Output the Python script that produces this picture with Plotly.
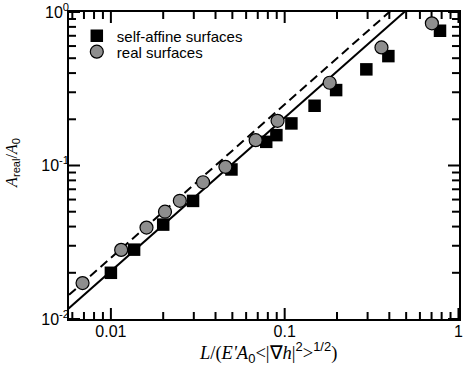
import plotly.graph_objects as go

# self-affine surfaces (squares)
sa_x = [0.0100, 0.0136, 0.0200, 0.0297, 0.0494, 0.0783, 0.0896, 0.1093, 0.1486, 0.1977, 0.295, 0.395, 0.783]
sa_y = [0.0200, 0.0283, 0.0412, 0.0588, 0.0942, 0.1426, 0.1577, 0.188, 0.245, 0.310, 0.423, 0.516, 0.755]

# real surfaces (circles)
real_x = [0.00687, 0.01146, 0.01603, 0.02048, 0.02493, 0.0339, 0.0456, 0.0681, 0.0910, 0.1815, 0.3605, 0.703]
real_y = [0.01714, 0.0282, 0.0394, 0.0500, 0.0589, 0.0778, 0.0980, 0.1462, 0.1954, 0.346, 0.588, 0.844]

# straight reference lines (end points)
fit_x = [0.005, 0.6]
solid_y = [0.01025, 1.23]
dashed_y = [0.0125, 1.5]

x_tickvals = [0.01, 0.1, 1]
x_ticktext = ["0.01", "0.1", "1"]
x_minor = [0.006, 0.007, 0.008, 0.009, 0.02, 0.03, 0.04, 0.05, 0.06, 0.07, 0.08, 0.09,
           0.2, 0.3, 0.4, 0.5, 0.6, 0.7, 0.8, 0.9]
y_tickvals = [0.01, 0.1, 1]
y_ticktext = ["10<sup>-2</sup>", "10<sup>-1</sup>", "10<sup>0</sup>"]
y_minor = [0.02, 0.03, 0.04, 0.05, 0.06, 0.07, 0.08, 0.09,
           0.2, 0.3, 0.4, 0.5, 0.6, 0.7, 0.8, 0.9]

SANS = "Liberation Sans, Arial, sans-serif"
SERIF = "Liberation Serif, Times New Roman, serif"
XR = [-2.241, 0.003]
YR = [-2, 0]
W, H = 464, 371
MARGIN = dict(l=69, r=5, t=12, b=52)
MAJOR_LEN, MINOR_LEN = 11, 7  # tick lengths in pixels
TICK_W = 2

# pixel -> decade conversion for the tick lengths
px_per_dec_x = (W - MARGIN["l"] - MARGIN["r"]) / (XR[1] - XR[0])
px_per_dec_y = (H - MARGIN["t"] - MARGIN["b"]) / (YR[1] - YR[0])

fig = go.Figure()

# inside tick marks on all four edges, as one line trace (segments separated by None)
tx, ty = [], []
for vals, L in ((x_tickvals, MAJOR_LEN), (x_minor, MINOR_LEN)):
    d = L / px_per_dec_y
    for v in vals:
        tx += [v, v, None, v, v, None]
        ty += [10 ** YR[0], 10 ** (YR[0] + d), None, 10 ** YR[1], 10 ** (YR[1] - d), None]
for vals, L in ((y_tickvals, MAJOR_LEN), (y_minor, MINOR_LEN)):
    d = L / px_per_dec_x
    for v in vals:
        tx += [10 ** XR[0], 10 ** (XR[0] + d), None, 10 ** XR[1], 10 ** (XR[1] - d), None]
        ty += [v, v, None, v, v, None]
fig.add_trace(go.Scatter(x=tx, y=ty, mode="lines", showlegend=False, hoverinfo="skip",
                         connectgaps=False, line=dict(color="black", width=TICK_W)))

fig.add_trace(go.Scatter(x=fit_x, y=dashed_y, mode="lines", showlegend=False,
                         line=dict(color="black", width=2, dash="9px,5px")))
fig.add_trace(go.Scatter(x=fit_x, y=solid_y, mode="lines", showlegend=False,
                         line=dict(color="black", width=2)))
fig.add_trace(go.Scatter(x=sa_x, y=sa_y, mode="markers", name="self-affine surfaces",
                         legend="legend",
                         marker=dict(symbol="square", size=12.5, color="black",
                                     line=dict(width=0))))
fig.add_trace(go.Scatter(x=real_x, y=real_y, mode="markers", name="real surfaces",
                         legend="legend2",
                         marker=dict(symbol="circle", size=13, color="#8e8e8e",
                                     line=dict(color="black", width=1.2))))

axis_common = dict(
    type="log", showgrid=False, zeroline=False, showline=True, linecolor="black",
    linewidth=1.5, mirror=True, ticks="inside", ticklen=MAJOR_LEN, tickwidth=1.5,
    tickcolor="rgba(0,0,0,0)", automargin=False,
    tickfont=dict(family=SANS, size=16, color="black"),
)
fig.update_layout(
    xaxis=dict(**axis_common, range=XR, tickvals=x_tickvals, ticktext=x_ticktext,
               ticklabelstandoff=-3),
    yaxis=dict(**axis_common, range=YR, tickvals=y_tickvals, ticktext=y_ticktext,
               ticklabelstandoff=-5),
)

xlabel = ("<i>L</i>/(<i>E'A</i><sub><span style='font-family:Liberation Sans'>0</span></sub>"
          "<|∇<i>h</i>|<sup><span style='font-family:Liberation Sans'>2</span></sup>>"
          "<sup><span style='font-family:Liberation Sans'>1/2</span></sup>)")
ylabel = ("<i>A</i><sub><span style='font-family:Liberation Sans'>real</span></sub>/<i>A</i>"
          "<sub><span style='font-family:Liberation Sans'>0</span></sub>")

fig.add_annotation(text=xlabel, xref="paper", yref="paper", x=0.509, y=-0.11,
                   xanchor="center", yanchor="middle", showarrow=False,
                   font=dict(family=SERIF, size=18.5, color="black"))
fig.add_annotation(text=ylabel, xref="paper", yref="paper", x=-0.145, y=0.51,
                   xanchor="center", yanchor="middle", showarrow=False, textangle=-90,
                   font=dict(family=SERIF, size=16, color="black"))

leg = dict(xanchor="left", yanchor="middle", bgcolor="rgba(0,0,0,0)", borderwidth=0,
           font=dict(family=SANS, size=15, color="black"))
fig.update_layout(
    width=W, height=H,
    margin=MARGIN,
    paper_bgcolor="white", plot_bgcolor="white",
    showlegend=True,
    legend=dict(**leg, x=0.02, y=0.922),
    legend2=dict(**leg, x=0.02, y=0.870),
)

fig.write_html("out.html", config={"displayModeBar": False},
               post_script="document.body.style.margin='0px';")
